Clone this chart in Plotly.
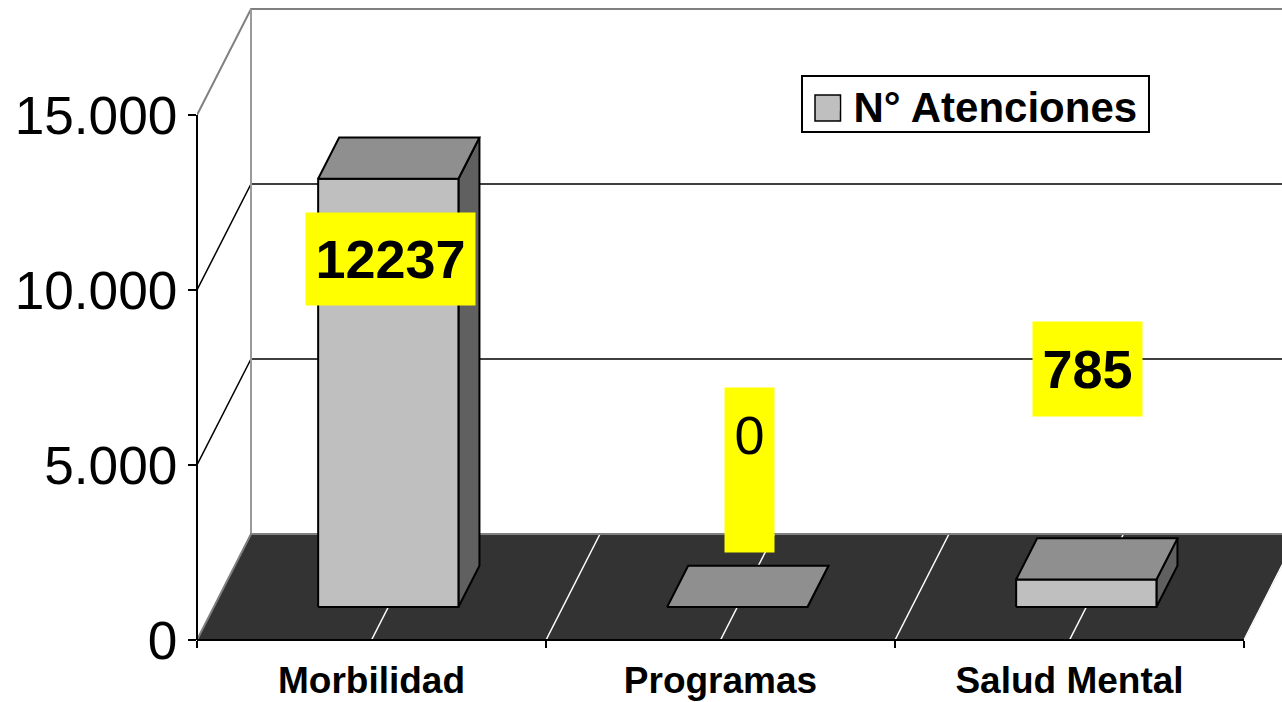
import plotly.graph_objects as go

# ---- data ----
categories = ["Morbilidad", "Programas", "Salud Mental"]
atenciones = [12237, 0, 785]
y_ticks = [0, 5000, 10000, 15000]
series_name = "N° Atenciones"

# ---- oblique projection settings, in axis units ----
DEPTH_X = 54 / 349      # shift of the back wall along x (category units)
DEPTH_Y = 106 / 0.035   # shift of the back wall along y (value units)
BAR_WIDTH = 0.402
BAR_NEAR = 0.311
BAR_FAR = 0.70
Y_TOP = 640 / 0.035
X_TOP = 1085 / 349
N = len(categories)

FONT = "Liberation Sans, Arial, sans-serif"


def p(x, y, d=0.0):
    return x + d * DEPTH_X, y + d * DEPTH_Y


def poly(points):
    xs, ys = zip(*points)
    return list(xs) + [xs[0], None], list(ys) + [ys[0], None]


def merge(polys):
    xs, ys = [], []
    for a, b in polys:
        xs += a
        ys += b
    return xs, ys


fig = go.Figure()


def add_line(xs, ys, color, width=1.5):
    fig.add_trace(go.Scatter(x=xs, y=ys, mode="lines", showlegend=False, hoverinfo="skip",
                             line=dict(color=color, width=width)))


def add_fill(polys, color, line_color="black", width=2):
    xs, ys = merge(polys)
    fig.add_trace(go.Scatter(x=xs, y=ys, mode="lines", fill="toself", fillcolor=color,
                             showlegend=False, hoverinfo="skip",
                             line=dict(color=line_color, width=width)))


# floor
add_fill([poly([p(0, 0), p(N, 0), p(N, 0, 1), p(0, 0, 1)])], "#333333", "#333333", 1)

# floor division lines
for c in [0.5, 1, 1.5, 2, 2.5, 3]:
    a, b = p(c, 0), p(c, 0, 1)
    add_line([a[0], b[0]], [a[1], b[1]], "white", 1.5)

# walls: gridlines and outline
for v in y_ticks[1:]:
    color = "#808080" if v == max(y_ticks) else "black"
    a, b = p(0, v), p(0, v, 1)
    add_line([a[0], b[0], X_TOP], [a[1], b[1], b[1]], color, 2 if v == max(y_ticks) else 1.5)
a, b = p(0, 0, 1), p(0, max(y_ticks), 1)
add_line([a[0], b[0]], [a[1], b[1]], "#9a9a9a", 2)
a, b = p(0, 0), p(0, 0, 1)
add_line([a[0], b[0], X_TOP], [a[1], b[1], b[1]], "#808080", 2)

# bars
fronts, tops, sides = [], [], []
for i, v in enumerate(atenciones):
    x0 = i + 0.5 - BAR_WIDTH / 2
    x1 = i + 0.5 + BAR_WIDTH / 2
    fronts.append(poly([p(x0, 0, BAR_NEAR), p(x1, 0, BAR_NEAR), p(x1, v, BAR_NEAR), p(x0, v, BAR_NEAR)]))
    tops.append(poly([p(x0, v, BAR_NEAR), p(x1, v, BAR_NEAR), p(x1, v, BAR_FAR), p(x0, v, BAR_FAR)]))
    sides.append(poly([p(x1, 0, BAR_NEAR), p(x1, 0, BAR_FAR), p(x1, v, BAR_FAR), p(x1, v, BAR_NEAR)]))
add_fill(sides, "#606060")
add_fill(fronts, "#BFBFBF")
add_fill(tops, "#8F8F8F")

# axis lines (only as long as the ticks reach)
fig.add_shape(type="line", xref="paper", yref="y", layer="above", x0=0, x1=0,
              y0=0, y1=max(y_ticks), line=dict(color="black", width=2))
fig.add_shape(type="line", xref="x", yref="paper", layer="above", x0=0, x1=N,
              y0=0, y1=0, line=dict(color="black", width=2))

# legend entry: the swatch colour continues into the box drawn beneath it
fig.add_trace(go.Scatter(x=[None], y=[None], mode="markers", name=series_name,
                         marker=dict(symbol="square", size=12, color="#BFBFBF",
                                     line=dict(width=0))))
PW, PH = 1085, 640
fig.add_shape(type="rect", xref="paper", yref="paper", layer="above",
              x0=(802 - 197) / PW, x1=(1149 - 197) / PW, y0=1 - 132 / PH, y1=1 - 76 / PH,
              fillcolor="white", line=dict(color="black", width=2))
fig.add_shape(type="rect", xref="paper", yref="paper", layer="above",
              x0=(815 - 197) / PW, x1=(840.5 - 197) / PW, y0=1 - 121 / PH, y1=1 - 95 / PH,
              fillcolor="#BFBFBF", line=dict(color="black", width=1.5))

# data labels on yellow boxes
label_x = [0.554, 1.583, 2.551]
label_y = [10886, 4857, 7743]
label_w = [169, 49, 109]
label_h = [92, 164, 94]
label_bold = [True, False, True]
for i, v in enumerate(atenciones):
    fig.add_annotation(x=label_x[i], y=label_y[i], xref="x", yref="y",
                       text=f"{v}<br>&nbsp;" if v == 0 else str(v),
                       showarrow=False, bgcolor="#FFFF00",
                       width=label_w[i], height=label_h[i], borderpad=0,
                       align="center", valign="middle",
                       xanchor="center", yanchor="middle",
                       font=dict(family=FONT, size=54, color="black",
                                 weight=700 if label_bold[i] else 400))

fig.update_layout(
    width=1282, height=702,
    margin=dict(l=197, r=0, t=0, b=62),
    paper_bgcolor="white", plot_bgcolor="white",
    separators=",.",
    hovermode=False,
    font=dict(family=FONT, color="black"),
    showlegend=True,
    legend=dict(x=(813.5 - 197) / PW, y=1 - 71.5 / PH, xanchor="left", yanchor="top",
                bgcolor="rgba(0,0,0,0)", borderwidth=0,
                font=dict(family=FONT, size=42, color="black", weight=700)),
    xaxis=dict(range=[0, X_TOP], showgrid=False, zeroline=False, showline=False,
               tickmode="array", tickvals=[i + 0.5 for i in range(N)], ticktext=categories,
               ticks="", ticklabelstandoff=15,
               tickfont=dict(family=FONT, size=37, color="black", weight=700),
               minor=dict(tickmode="array", tickvals=list(range(N + 1)), ticks="outside",
                          ticklen=7, tickwidth=2, tickcolor="black", showgrid=False)),
    yaxis=dict(range=[0, Y_TOP], showgrid=False, zeroline=False, showline=False,
               tickmode="array", tickvals=y_ticks, tickformat=",d",
               ticks="outside", ticklen=8, tickwidth=2, tickcolor="black",
               ticklabelstandoff=0,
               tickfont=dict(family=FONT, size=53.2, color="black")),
)

fig.write_html("out.html", config=dict(displayModeBar=False),
               post_script="document.body.style.margin='0';")
